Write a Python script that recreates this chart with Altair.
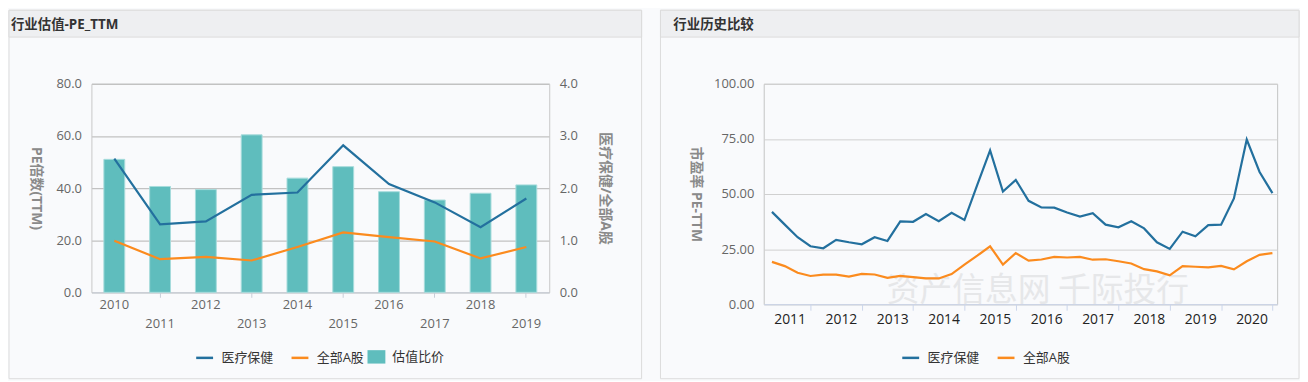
import json
import altair as alt
import pandas as pd

# ---------------- data: left panel (annual) ----------------
years = ["2010", "2011", "2012", "2013", "2014", "2015", "2016", "2017", "2018", "2019"]
health_pe_annual = [51.3, 26.1, 27.2, 37.4, 38.3, 56.4, 41.5, 34.5, 25.0, 36.0]
all_a_pe_annual = [19.8, 12.7, 13.6, 12.2, 17.4, 23.0, 21.2, 19.5, 13.0, 17.4]
ratio_annual = [2.55, 2.03, 1.97, 3.02, 2.19, 2.41, 1.93, 1.77, 1.90, 2.06]

# ---------------- data: right panel (quarterly) ----------------
quarter_index = list(range(40))
health_pe_q = [41.9, 36.1, 30.4, 26.3, 25.4, 29.2, 28.1, 27.2, 30.4, 28.7,
               37.6, 37.4, 40.9, 37.7, 41.5, 38.2, 54.1, 69.8, 51.1, 56.4,
               46.9, 43.9, 43.8, 41.6, 39.8, 41.3, 36.1, 34.9, 37.6, 34.4,
               28.1, 25.1, 32.9, 30.8, 35.9, 36.1, 48.0, 74.7, 60.0, 50.4]
all_a_pe_q = [19.2, 17.3, 14.3, 12.8, 13.4, 13.4, 12.5, 13.8, 13.5, 12.0,
              12.9, 12.3, 11.7, 11.7, 13.7, 18.0, 22.0, 26.3, 18.0, 23.2,
              19.8, 20.3, 21.5, 21.2, 21.5, 20.2, 20.4, 19.5, 18.5, 15.9,
              14.9, 13.1, 17.3, 17.0, 16.7, 17.4, 15.8, 19.5, 22.4, 23.2]
year_labels = ["2011", "2012", "2013", "2014", "2015", "2016", "2017", "2018", "2019", "2020"]
year_end_ticks = [3, 7, 11, 15, 19, 23, 27, 31, 35, 39]

series_names = ["医疗保健", "全部A股"]
ratio_name = "估值比价"

BLUE = "#23709e"
ORANGE = "#fb8b1e"
TEAL = "#5fbdbd"
BG = "#f9fafc"
FRAME = "#dcdcdc"
HEADER = "#eeeff1"
FONT = "'Open Sans', 'Noto Sans CJK SC', sans-serif"

left_lines = pd.DataFrame({
    "year": years * 2,
    "series": [series_names[0]] * len(years) + [series_names[1]] * len(years),
    "value": health_pe_annual + all_a_pe_annual,
})
left_bars = pd.DataFrame({"year": years, "ratio": ratio_annual, "name": [ratio_name] * len(years)})

right_lines = pd.DataFrame({
    "idx": quarter_index * 2,
    "series": [series_names[0]] * len(quarter_index) + [series_names[1]] * len(quarter_index),
    "value": health_pe_q + all_a_pe_q,
})

one = pd.DataFrame({"k": [0]})

LW, LH = 461, 210
RW, RH = 517, 222


def panel_decor(x0, x1, y0, y1, header_bottom, title, title_x):
    frame = alt.Chart(one).mark_rect(fill="transparent", stroke=FRAME, strokeWidth=1).encode(
        x=alt.value(x0), x2=alt.value(x1), y=alt.value(y0), y2=alt.value(y1))
    header = alt.Chart(one).mark_rect(fill=HEADER, stroke=FRAME, strokeWidth=1).encode(
        x=alt.value(x0), x2=alt.value(x1), y=alt.value(y0), y2=alt.value(header_bottom))
    ttl = alt.Chart(one).mark_text(text=title, align="left", baseline="middle",
                                   fontSize=13.5, fontWeight="bold", color="#333333",
                                   font=FONT).encode(
        x=alt.value(title_x), y=alt.value((y0 + header_bottom) / 2 + 1))
    return [frame, header, ttl]


# ---------------- left panel ----------------
x_left = alt.X(
    "year:O",
    sort=years,
    scale=alt.Scale(paddingInner=0, paddingOuter=0),
    axis=alt.Axis(
        title=None, labelAngle=0,
        labelExpr="toNumber(datum.value) % 2 == 1 ? ['', datum.label] : datum.label",
        labelLineHeight=19, labelBaseline="top", labelPadding=1,
        labelColor="#666666", labelFontSize=13, labelFont=FONT,
        tickSize=5, tickColor="#c8ced8",
        tickOpacity={"condition": {"test": "toNumber(datum.value) % 2 == 1", "value": 1}, "value": 0},
        domainColor="#c8ced8", grid=False,
    ),
)

bars = alt.Chart(left_bars).mark_bar(size=21, stroke="#a6dcdc", strokeWidth=1).encode(
    x=x_left,
    y=alt.Y("ratio:Q", scale=alt.Scale(domain=[0, 4], nice=False),
            axis=alt.Axis(orient="right", values=[0, 1, 2, 3, 4], format=".1f", grid=False,
                          ticks=False, labelPadding=10, labelColor="#666666", labelFontSize=13,
                          labelFont=FONT, domainColor="#c8c8c8",
                          title="医疗保健/全部A股", titleAngle=90, titleX=56, titleY=LH / 2,
                          titleAlign="center", titleBaseline="middle", titleColor="#8a8a8a",
                          titleFontSize=14, titleFontWeight="bold", titleFont=FONT)),
    fill=alt.Fill("name:N", scale=alt.Scale(domain=[ratio_name], range=[TEAL]),
                  legend=alt.Legend(orient="none", legendX=278, legendY=266, direction="horizontal",
                                    title=None, symbolType="M-1,-0.75H1V0.75H-1Z", symbolSize=324,
                                    symbolStrokeWidth=0)),
)

lines_left = alt.Chart(left_lines).mark_line(strokeWidth=2.2).encode(
    x=x_left,
    y=alt.Y("value:Q", scale=alt.Scale(domain=[0, 80], nice=False),
            axis=alt.Axis(orient="left", values=[0, 20, 40, 60, 80], format=".1f", grid=True,
                          gridColor="#c2c2c2", gridWidth=1.3, ticks=False, labelPadding=10,
                          labelColor="#666666",
                          labelFontSize=13, labelFont=FONT, domainColor="#c8c8c8",
                          title="PE倍数(TTM)", titleAngle=90, titleX=-56, titleY=LH / 2,
                          titleAlign="center", titleBaseline="middle", titleColor="#8a8a8a",
                          titleFontSize=14, titleFontWeight="bold", titleFont=FONT)),
    stroke=alt.Stroke("series:N", sort=series_names,
                      scale=alt.Scale(domain=series_names, range=[BLUE, ORANGE]),
                      legend=alt.Legend(orient="none", legendX=104, legendY=266, direction="horizontal",
                                        title=None, symbolType="stroke", symbolSize=289,
                                        symbolStrokeWidth=2.5)),
)

left = alt.layer(
    *panel_decor(-83, 554, -74, 297, -47, "行业估值-PE_TTM", -81),
    bars, lines_left,
).resolve_scale(y="independent").properties(width=LW, height=LH)

# ---------------- right panel ----------------
watermark = alt.Chart(one).mark_text(
    text="资产信息网 千际投行", fontSize=33, color="#e6e7e9", align="center",
    baseline="alphabetic", clip=True, font="'Noto Sans CJK SC', sans-serif",
).encode(x=alt.value(276), y=alt.value(219))

lines_right = alt.Chart(right_lines).mark_line(strokeWidth=2.2, clip=True).encode(
    x=alt.X("idx:Q", scale=alt.Scale(domain=[-0.64, 39.37], nice=False, zero=False),
            axis=alt.Axis(title=None, values=year_end_ticks,
                          labelExpr=json.dumps(year_labels) + "[(datum.value - 3) / 4]",
                          labelOffset=-21, labelFlush=False, labelPadding=2, grid=False,
                          tickSize=6, tickColor="#ccd6eb", domainColor="#ccd6eb",
                          labelColor="#222222", labelFontSize=14, labelFont=FONT)),
    y=alt.Y("value:Q", scale=alt.Scale(domain=[0, 100], nice=False),
            axis=alt.Axis(values=[0, 25, 50, 75, 100], format=".2f", grid=True, gridColor="#d0d0d0",
                          ticks=False, domain=False, labelPadding=10, labelColor="#666666",
                          labelFontSize=13, labelFont=FONT,
                          title="市盈率 PE-TTM", titleAngle=90, titleX=-69, titleY=RH / 2,
                          titleAlign="center", titleBaseline="middle", titleColor="#8a8a8a",
                          titleFontSize=14, titleFontWeight="bold", titleFont=FONT)),
    stroke=alt.Stroke("series:N", sort=series_names,
                      scale=alt.Scale(domain=series_names, range=[BLUE, ORANGE]),
                      legend=alt.Legend(orient="none", legendX=138, legendY=266, direction="horizontal",
                                        title=None, symbolType="stroke", symbolSize=289,
                                        symbolStrokeWidth=2.5)),
)

right = alt.layer(
    *panel_decor(-104, 539, -74, 297, -47, "行业历史比较", -91),
    watermark, lines_right,
).properties(width=RW, height=RH, view=alt.ViewBackground(stroke="#c4c4c4", strokeWidth=1))

chart = alt.hconcat(left, right, spacing=17).resolve_scale(stroke="independent").properties(
    padding={"left": 0, "top": 0, "right": 0, "bottom": 0}
).configure(background=BG, font=FONT).configure_view(stroke=None).configure_legend(
    labelFontSize=13, labelColor="#333333", labelFont=FONT, padding=0, labelOffset=7,
    columnPadding=12,
)

chart.save("out.html", embed_options={"renderer": "svg", "actions": False})
